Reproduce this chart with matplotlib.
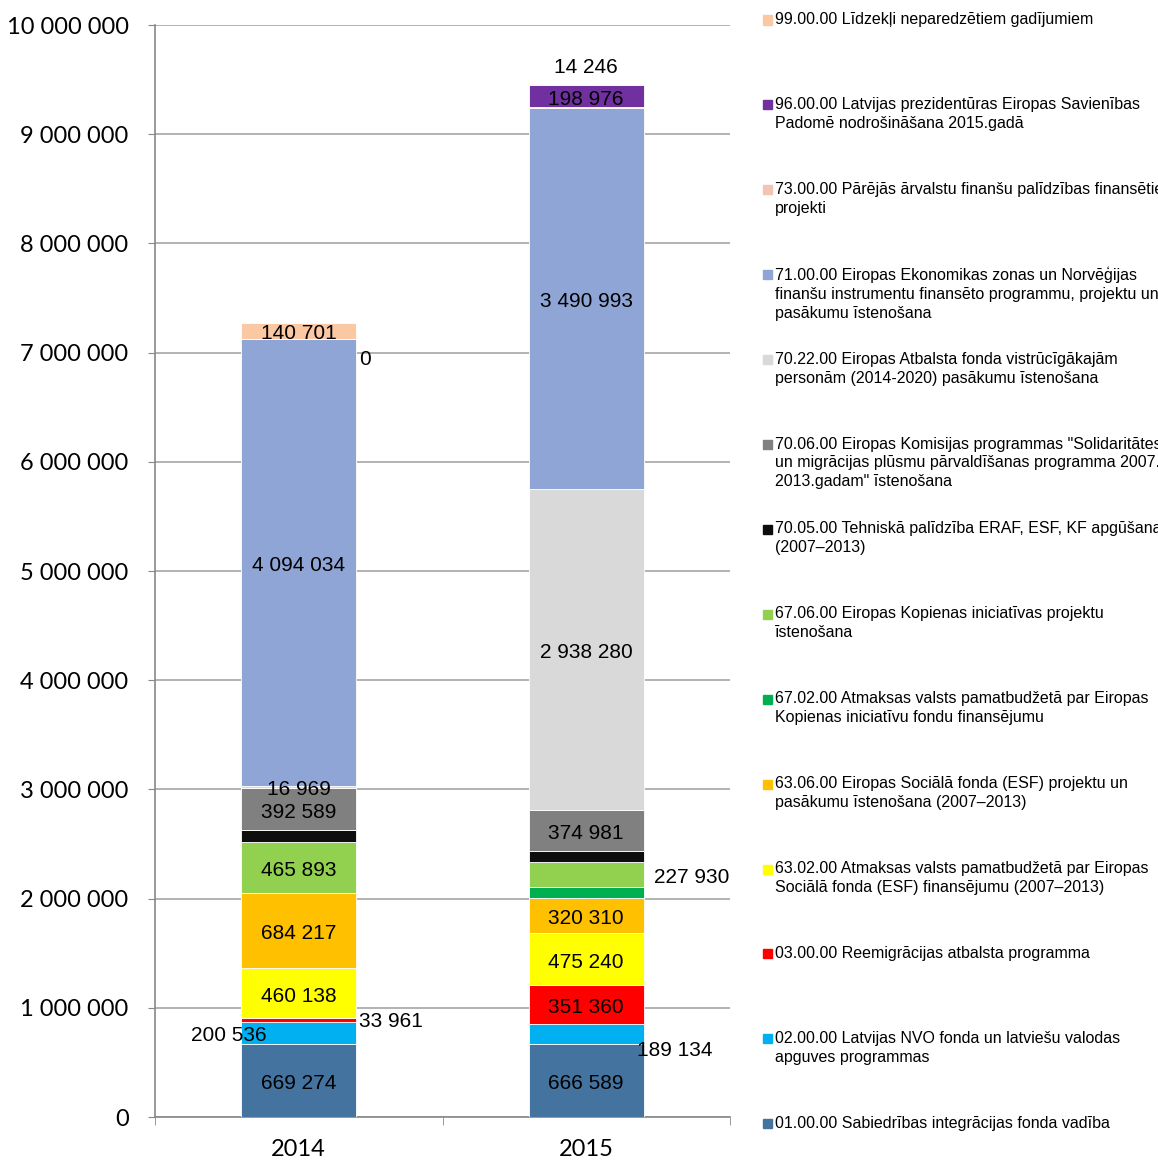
import matplotlib
matplotlib.use("Agg")
import matplotlib.pyplot as plt
from matplotlib.patches import Rectangle
import numpy as np

years = ["2014", "2015"]

# series, bottom to top
series_names = [
    "01.00.00 Sabiedrības integrācijas fonda vadība",
    "02.00.00 Latvijas NVO fonda un latviešu valodas\napguves programmas",
    "03.00.00 Reemigrācijas atbalsta programma",
    "63.02.00 Atmaksas valsts pamatbudžetā par Eiropas\nSociālā fonda (ESF) finansējumu (2007–2013)",
    "63.06.00 Eiropas Sociālā fonda (ESF) projektu un\npasākumu īstenošana (2007–2013)",
    "67.02.00 Atmaksas valsts pamatbudžetā par Eiropas\nKopienas iniciatīvu fondu finansējumu",
    "67.06.00 Eiropas Kopienas iniciatīvas projektu\nīstenošana",
    "70.05.00 Tehniskā palīdzība ERAF, ESF, KF apgūšanai\n(2007–2013)",
    "70.06.00 Eiropas Komisijas programmas \"Solidaritātes\nun migrācijas plūsmu pārvaldīšanas programma 2007.-\n2013.gadam\" īstenošana",
    "70.22.00 Eiropas Atbalsta fonda vistrūcīgākajām\npersonām (2014-2020) pasākumu īstenošana",
    "71.00.00 Eiropas Ekonomikas zonas un Norvēģijas\nfinanšu instrumentu finansēto programmu, projektu un\npasākumu īstenošana",
    "73.00.00 Pārējās ārvalstu finanšu palīdzības finansētie\nprojekti",
    "96.00.00 Latvijas prezidentūras Eiropas Savienības\nPadomē nodrošināšana 2015.gadā",
    "99.00.00 Līdzekļi neparedzētiem gadījumiem",
]

v2014 = [669274, 200536, 33961, 460138, 684217, 0, 465893, 110000, 392589, 16969, 4094034, 0, 0, 140701]
v2015 = [666589, 189134, 351360, 475240, 320310, 107000, 227930, 98000, 374981, 2938280, 3490993, 10000, 198976, 14246]

# which labels are shown (None = hidden)
lab2014 = ["669 274", "200 536", "33 961", "460 138", "684 217", None, "465 893", None, "392 589", "16 969", "4 094 034", "0", None, "140 701"]
lab2015 = ["666 589", "189 134", "351 360", "475 240", "320 310", None, "227 930", None, "374 981", "2 938 280", "3 490 993", None, "198 976", "14 246"]

colors = ["#44739F", "#00B0F0", "#FF0000", "#FFFF00", "#FFC000", "#00B050", "#92D050",
          "#0D0D0D", "#808080", "#D9D9D9", "#8FA5D5", "#F3C3B3", "#7030A0", "#FAC8A2"]

yticks = np.arange(0, 10_000_001, 1_000_000)
ytick_labels = ["0", "1 000 000", "2 000 000", "3 000 000", "4 000 000", "5 000 000",
                "6 000 000", "7 000 000", "8 000 000", "9 000 000", "10 000 000"]

W, H = 1158, 1162
fig = plt.figure(figsize=(W / 100, H / 100), dpi=100)
ax = fig.add_axes([155 / W, 1 - 1117 / H, (730 - 155) / W, (1117 - 25) / H])

x = np.arange(len(years))
width = 0.4
vals = np.array([v2014, v2015], dtype=float).T
bottoms = np.zeros(len(years))
label_sets = [lab2014, lab2015]

# per-label offsets in pixels (dx, dy) and horizontal alignment for off-centre labels
special = {
    (0, 1): (-70, 0, "center"),
    (0, 2): (3, 2, "left"),
    (0, 11): (3, -18, "left"),
    (1, 1): (-7, -14, "left"),
    (1, 6): (10, 0, "left"),
    (1, 13): (0, 20, "center"),
}

for i, name in enumerate(series_names):
    ax.bar(x, vals[i], width, bottom=bottoms, color=colors[i], edgecolor="white",
           linewidth=0.6, zorder=3)
    for j in range(len(years)):
        lab = label_sets[j][i]
        if lab is not None:
            yc = bottoms[j] + vals[i][j] / 2
            dx, dy, ha = special.get((j, i), (0, 0, "center"))
            xx = x[j] + width / 2 if ha == "left" else x[j]
            ax.annotate(lab, (xx, yc), xytext=(dx, dy - 3),
                        textcoords="offset pixels", ha=ha, va="center",
                        fontsize=15, family="Liberation Sans", color="black", zorder=5)
    bottoms = bottoms + vals[i]

ax.set_xlim(-0.5, 1.5)
ax.set_ylim(0, 10_000_000)
ax.set_yticks(yticks)
ax.set_yticklabels(ytick_labels, family="Lato", fontsize=17)
ax.set_xticks(x)
ax.set_xticklabels(years, family="Lato", fontsize=17)
ax.set_xticks([-0.5, 0.5, 1.5], minor=True)
ax.tick_params(axis="x", which="major", length=0, pad=16)
ax.tick_params(axis="x", which="minor", length=6, color="#888888", direction="out")
ax.tick_params(axis="y", length=5, color="#888888", pad=14)
ax.yaxis.grid(True, color="#A6A6A6", linewidth=1.2, zorder=0)
ax.set_axisbelow(True)
for s in ["top", "right"]:
    ax.spines[s].set_visible(False)
ax.spines["left"].set_color("#888888")
ax.spines["bottom"].set_color("#888888")
ax.spines["left"].set_linewidth(1.2)
ax.spines["bottom"].set_linewidth(1.2)

# legend (top to bottom = reversed stack order)
entry_y = [20 + 84.9 * k for k in range(len(series_names))]
for k, i in enumerate(range(len(series_names) - 1, -1, -1)):
    yp = entry_y[k]
    fig.patches.append(Rectangle((763 / W, 1 - (yp + 4.5) / H), 9 / W, 9 / H,
                                 transform=fig.transFigure, color=colors[i]))
    fig.text(775 / W, 1 - (yp - 8) / H, series_names[i], ha="left", va="top",
             fontsize=11.5, family="Liberation Sans", linespacing=1.33, color="black")

fig.savefig("out.png", dpi=100)
